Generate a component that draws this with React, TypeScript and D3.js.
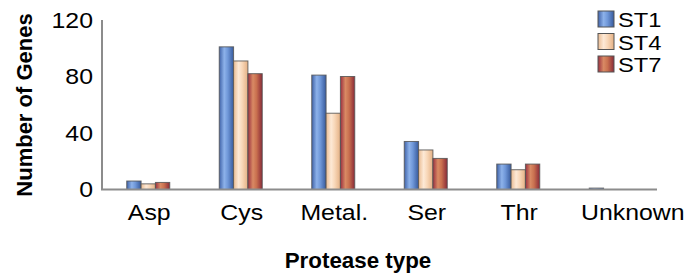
import React, { useEffect, useRef } from "react";
import * as d3 from "d3";

const categories = ["Asp", "Cys", "Metal.", "Ser", "Thr", "Unknown"];
const seriesNames = ["ST1", "ST4", "ST7"];
const st1 = [6, 101, 81, 34, 18, 1];
const st4 = [4, 91, 54, 28, 14, 0];
const st7 = [5, 82, 80, 22, 18, 0];
const yTicks = [0, 40, 80, 120];

// gradient stops per series: edge, highlight, mid, edge
const gradients: Record<string, string[]> = {
  ST1: ["#3f62a8", "#8db2ea", "#6f97d8", "#375a9c"],
  ST4: ["#e9bb92", "#fde9d6", "#f8d7b8", "#e4b084"],
  ST7: ["#9a3040", "#d98a64", "#c9704f", "#8a2a38"],
};

export default function App() {
  const svgRef = useRef<SVGSVGElement>(null);

  useEffect(() => {
    const width = 689;
    const height = 275;
    const left = 102;
    const right = 657;
    const top = 20;
    const bottom = 189.5;
    const sx = 1.13; // the labels in the figure are a bit wider than plain Arial

    const svg = d3.select(svgRef.current)
      .attr("width", width)
      .attr("height", height)
      .style("font-family", "'Liberation Sans', Arial, sans-serif");

    svg.selectAll("*").remove();

    const defs = svg.append("defs");
    seriesNames.forEach(name => {
      const g = defs.append("linearGradient")
        .attr("id", "grad-" + name)
        .attr("x1", "0").attr("x2", "1").attr("y1", "0").attr("y2", "0");
      const stops = gradients[name];
      [0, 0.35, 0.6, 1].forEach((o, i) => {
        g.append("stop").attr("offset", o).attr("stop-color", stops[i]);
      });
    });

    const values = [st1, st4, st7];

    const x0 = d3.scaleBand<string>().domain(categories).range([left, right]);
    const groupWidth = 43;
    const x1 = d3.scaleBand<string>()
      .domain(seriesNames)
      .range([x0.bandwidth() / 2 - groupWidth / 2, x0.bandwidth() / 2 + groupWidth / 2]);

    const y = d3.scaleLinear().domain([0, 120]).range([bottom, top]);

    // bars
    const groups = svg.append("g")
      .selectAll("g")
      .data(categories)
      .join("g")
      .attr("transform", d => `translate(${x0(d)},0)`);

    groups.selectAll("rect")
      .data((d, i) => seriesNames.map((s, j) => ({ s, v: values[j][i] })))
      .join("rect")
      .attr("x", d => x1(d.s)!)
      .attr("y", d => y(d.v))
      .attr("width", x1.bandwidth())
      .attr("height", d => y(0) - y(d.v))
      .attr("fill", d => `url(#grad-${d.s})`)
      .attr("stroke", "#555")
      .attr("stroke-opacity", 0.85)
      .attr("stroke-width", 1);

    // axes lines
    svg.append("line")
      .attr("x1", left).attr("x2", left)
      .attr("y1", top).attr("y2", bottom)
      .attr("stroke", "#8c8c8c").attr("stroke-width", 2);
    svg.append("line")
      .attr("x1", left - 1).attr("x2", right)
      .attr("y1", bottom).attr("y2", bottom)
      .attr("stroke", "#8c8c8c").attr("stroke-width", 2);

    // y tick labels
    svg.append("g")
      .selectAll("text")
      .data(yTicks)
      .join("text")
      .attr("transform", d => `translate(${left - 9},${y(d)}) scale(${sx},1)`)
      .attr("dy", "0.35em")
      .attr("text-anchor", "end")
      .style("font-size", "22px")
      .attr("fill", "#000")
      .text(d => d);

    // x tick labels (the last one sits to the right of its group in the figure)
    const labelShift = (d: string) => (d === "Unknown" ? 22 : 1);
    svg.append("g")
      .selectAll("text")
      .data(categories)
      .join("text")
      .attr("transform", d => `translate(${x0(d)! + x0.bandwidth() / 2 + labelShift(d)},220) scale(${sx},1)`)
      .attr("text-anchor", "middle")
      .style("font-size", "22px")
      .attr("fill", "#000")
      .text(d => d);

    // axis titles
    svg.append("text")
      .attr("transform", "translate(358,268) scale(1.04,1)")
      .attr("text-anchor", "middle")
      .style("font-size", "21.5px")
      .style("font-weight", "bold")
      .text("Protease type");

    svg.append("text")
      .attr("transform", `translate(32,105) rotate(-90)`)
      .attr("text-anchor", "middle")
      .style("font-size", "22px")
      .style("font-weight", "bold")
      .text("Number of Genes");

    // legend
    const legend = svg.append("g")
      .selectAll("g")
      .data(seriesNames)
      .join("g")
      .attr("transform", (d, i) => `translate(598,${11 + i * 22.5})`);

    legend.append("rect")
      .attr("width", 16)
      .attr("height", 16)
      .attr("fill", d => `url(#grad-${d})`)
      .attr("stroke", "#555")
      .attr("stroke-width", 1);

    legend.append("text")
      .attr("transform", `translate(20,16) scale(${sx},1)`)
      .style("font-size", "21px")
      .text(d => d);
  }, []);

  return (
    <svg ref={svgRef} style={{ position: "absolute", left: 0, top: 0 }}></svg>
  );
}
